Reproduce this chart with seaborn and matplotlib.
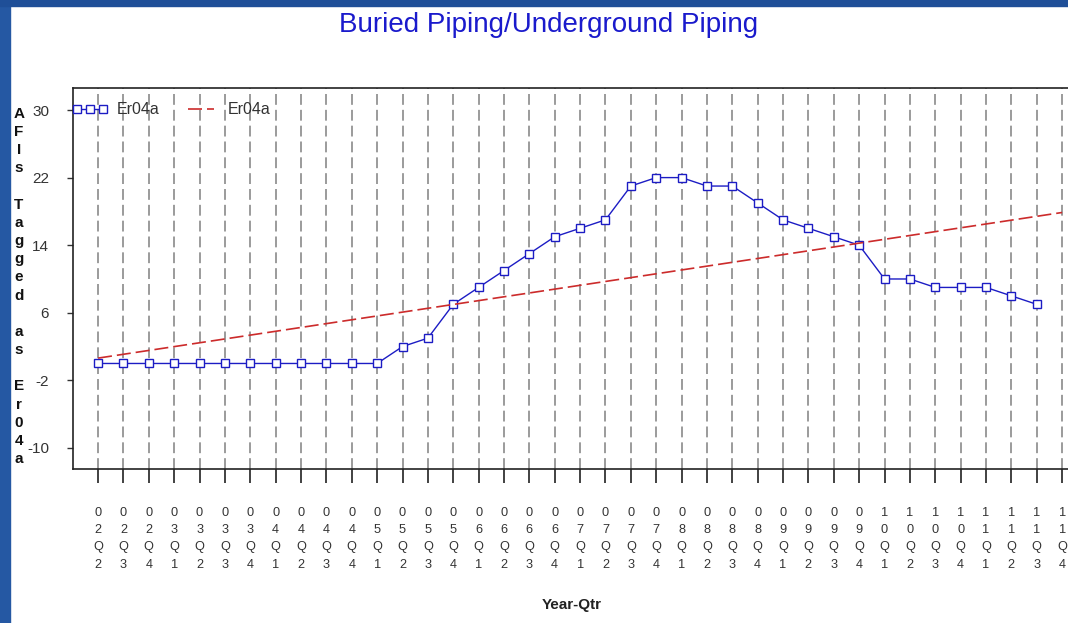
import numpy as np
import pandas as pd
import matplotlib
matplotlib.use("Agg")
import matplotlib.pyplot as plt
import seaborn as sns
from matplotlib.patches import Rectangle

quarters = ["02Q2", "02Q3", "02Q4",
            "03Q1", "03Q2", "03Q3", "03Q4",
            "04Q1", "04Q2", "04Q3", "04Q4",
            "05Q1", "05Q2", "05Q3", "05Q4",
            "06Q1", "06Q2", "06Q3", "06Q4",
            "07Q1", "07Q2", "07Q3", "07Q4",
            "08Q1", "08Q2", "08Q3", "08Q4",
            "09Q1", "09Q2", "09Q3", "09Q4",
            "10Q1", "10Q2", "10Q3", "10Q4",
            "11Q1", "11Q2", "11Q3", "11Q4"]
er04a = [0, 0, 0, 0, 0, 0, 0, 0, 0, 0, 0, 0,
         2, 3, 7, 9, 11, 13, 15, 16, 17, 21, 22, 22,
         21, 21, 19, 17, 16, 15, 14, 10, 10, 9, 9, 9, 8, 7]
y_ticks = [-10, -2, 6, 14, 22, 30]
series_name = "Er04a"
title = "Buried Piping/Underground Piping"
y_label_words = ["AFIs", "Tagged", "as", "Er04a"]
x_label = "Year-Qtr"

sns.set_style("white")
plt.rcParams["font.family"] = ["Liberation Sans", "DejaVu Sans"]

W, H = 1068, 623
fig = plt.figure(figsize=(W / 100, H / 100), dpi=100)
fig.patch.set_facecolor("white")

left_px, right_px, top_px, bot_px = 72.7, 1087.5, 87.7, 469.0
ax = fig.add_axes([left_px / W, 1 - bot_px / H, (right_px - left_px) / W, (bot_px - top_px) / H])

pos = np.arange(len(er04a))
df = pd.DataFrame({"pos": pos, "quarter": quarters[:len(er04a)], "value": er04a})

blue = "#1c1cc4"
red = "#cc2b2b"

sns.lineplot(data=df, x="pos", y="value", ax=ax, color=blue, linewidth=1.0,
             marker="s", markersize=6, markerfacecolor="white",
             markeredgecolor=blue, markeredgewidth=1.0, label=series_name)

coef = np.polyfit(pos, np.array(er04a, dtype=float), 1)
tx = np.arange(len(quarters))
ty = np.polyval(coef, tx)
sns.lineplot(x=tx, y=ty, ax=ax, color=red, linewidth=1.2, label=series_name)
ax.lines[-1].set_dashes((8.4, 3.0))

ax.set_xlim(-1, 39)
ax.set_ylim(-12.49, 32.64)
ax.set_xticks(np.arange(len(quarters)))
ax.set_xticklabels(["\n".join(q) for q in quarters], linespacing=1.6,
                   fontsize=9.2, color="#333333")
ax.set_yticks(y_ticks)
ax.set_yticklabels([str(v) for v in y_ticks], fontsize=11, color="#333333")
ax.tick_params(axis="x", length=10, width=1.3, pad=17, color="#333333", direction="out", bottom=True)
ax.tick_params(axis="y", length=4, width=1.0, pad=13, color="#333333", direction="out", left=True)

ax.grid(False)
for x in tx:
    ax.axvline(x, color="#8a8a8a", linewidth=1.2, dashes=(6.5, 3.0), zorder=0)

for side in ["left", "bottom", "top"]:
    ax.spines[side].set_visible(True)
    ax.spines[side].set_color("#222222")
    ax.spines[side].set_linewidth(1.2)
ax.spines["right"].set_visible(False)
ax.set_xlabel("")
ax.set_ylabel("")

leg = ax.legend(loc="center left", bbox_to_anchor=(0.0, (bot_px - 110) / (bot_px - top_px)),
                ncol=2, frameon=False, numpoints=3, fontsize=11.5,
                handlelength=2.2, handletextpad=0.55, columnspacing=1.5,
                borderpad=0, borderaxespad=0)
for t in leg.get_texts():
    t.set_color("#333333")

fig.text(549 / W, 1 - 25 / H, title, ha="center", va="center", fontsize=20, color="#1a1acc")

stacked = "\n\n".join("\n".join(list(w)) for w in y_label_words)
fig.text(19 / W, 1 - 286.5 / H, stacked, ha="center", va="center", fontsize=11,
         fontweight="bold", linespacing=1.38, color="#111111")
fig.text(572 / W, 1 - 605 / H, x_label, ha="center", va="center", fontsize=11,
         fontweight="bold", color="#222222")

fig.add_artist(Rectangle((0, 0), 10 / W, 1, transform=fig.transFigure, color="#2558a3", zorder=-1))
fig.add_artist(Rectangle((0, 1 - 6 / H), 1, 6 / H, transform=fig.transFigure, color="#1f4f98", zorder=-1))

fig.savefig("out.png", dpi=100)
